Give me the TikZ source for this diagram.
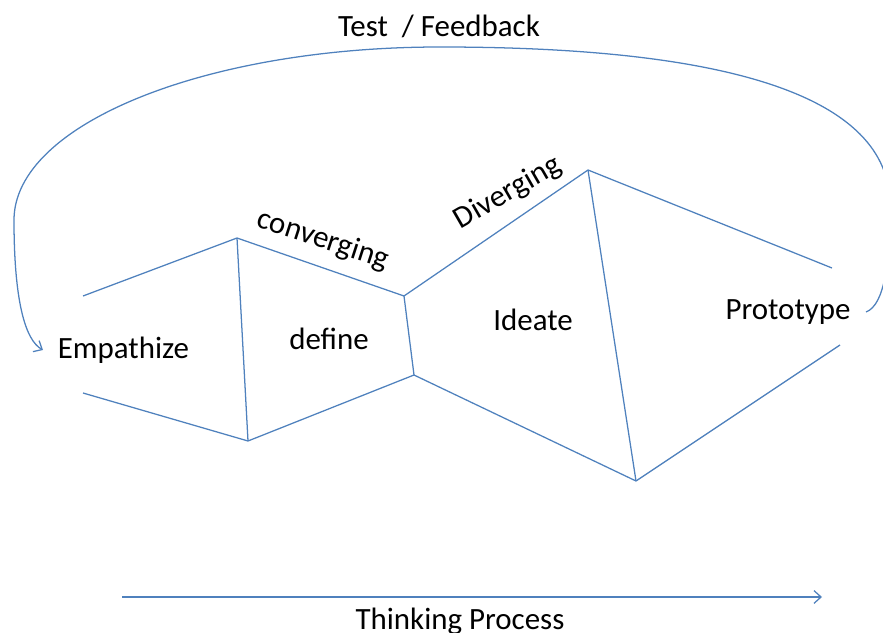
\documentclass[tikz,border=0pt]{standalone}
\usepackage{fontspec}
\setmainfont{Carlito}
\usepackage{tikz}
\usetikzlibrary{arrows, arrows.meta, positioning}
\usepackage{xcolor}
\definecolor{lineblue}{RGB}{79,129,189}

\begin{document}
\begin{tikzpicture}[line width=0.9pt, >={Straight Barb[length=5pt, width=9pt]},
	lbl/.style={inner sep=0pt, anchor=base, font=\fontsize{22}{26}\selectfont}]
		\useasboundingbox (0cm,0cm) rectangle (22.075cm,-15.825cm);
		\draw (2.075cm,-7.4cm) coordinate (em1)
		(2.075cm,-9.825cm) coordinate (em2)
		(5.925cm,-5.95cm) coordinate (df1)
		(6.2cm,-11.025cm) coordinate (df2)
		(10.1cm,-7.4cm) coordinate (id1)
		(10.35cm,-9.375cm) coordinate (id2)
		(14.7cm,-4.25cm) coordinate (pt1)
		(15.9cm,-12.025cm) coordinate (pt2)
		(20.8cm,-6.7cm) coordinate (end1)
		(21.0cm,-8.625cm) coordinate (end2)
		(21.65cm,-7.8cm) coordinate (fb1)
		(1.075cm,-8.75cm) coordinate (fb2)
		(3.05cm,-14.925cm) coordinate (tp1)
		(20.55cm,-14.925cm) coordinate (tp2);

		\draw (10.975cm,-0.925cm) node[lbl] (test) {Test~ / Feedback}
		(3.0875cm,-8.975cm) node[lbl] (emp) {Empathize}
		(8.225cm,-8.75cm) node[lbl] (def) {define}
		(13.325cm,-8.275cm) node[lbl] (ide) {Ideate}
		(19.7cm,-8.0cm) node[lbl] (pro) {Prototype}
		(8.075cm,-6.0cm) node[lbl, anchor=center, rotate=-18] (conv) {converging}
		(12.7cm,-4.825cm) node[lbl, anchor=center, rotate=30] (div) {Diverging}
		(11.5cm,-15.725cm) node[lbl] (think) {Thinking Process};

		\draw[lineblue] (em1) -- (df1);
		\draw[lineblue] (em2) -- (df2);
		\draw[lineblue] (df1) -- (df2);
		\draw[lineblue] (df1) -- (id1);
		\draw[lineblue] (df2) -- (id2);
		\draw[lineblue] (id1) -- (id2);
		\draw[lineblue] (id1) -- (pt1);
		\draw[lineblue] (id2) -- (pt2);
		\draw[lineblue] (pt1) -- (pt2);
		\draw[lineblue] (pt1) -- (end1);
		\draw[lineblue] (pt2) -- (end2);
		\draw[lineblue, ->] (tp1) -- (tp2);
		\draw[lineblue, ->] (fb1) .. controls (22.125cm,-7.625cm) and (22.25cm,-6.5cm) .. (22.25cm,-5.125cm)
		.. controls (22.25cm,-2.375cm) and (18.125cm,-1.175cm) .. (11.0cm,-1.175cm)
		.. controls (5.125cm,-1.175cm) and (0.35cm,-3.1125cm) .. (0.35cm,-5.5cm)
		.. controls (0.35cm,-7.5cm) and (0.625cm,-8.5cm) .. (fb2);
	\end{tikzpicture}
\end{document}
